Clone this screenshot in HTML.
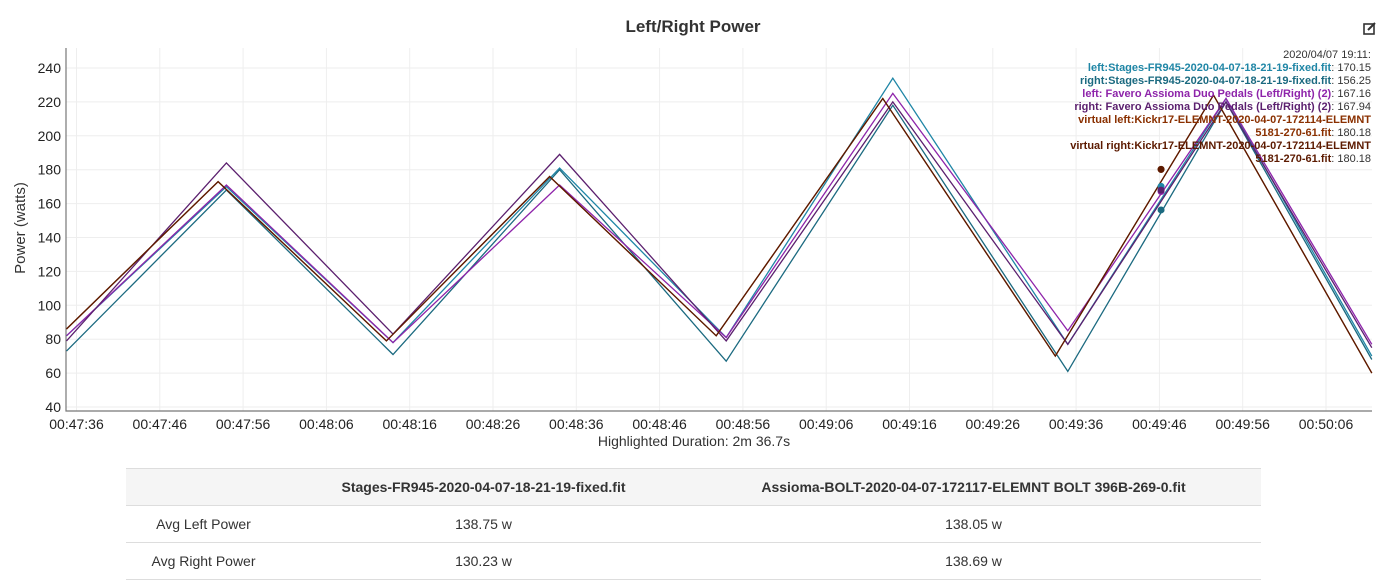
<!DOCTYPE html>
<html><head><meta charset="utf-8"><style>
body{margin:0;width:1386px;height:583px;background:#fff;font-family:"Liberation Sans",Arial,sans-serif;overflow:hidden;position:relative}
#title{position:absolute;left:0;width:1386px;top:17px;text-align:center;font-weight:bold;font-size:17px;color:#333}
table{position:absolute;left:126px;top:468px;width:1135px;border-collapse:collapse;font-size:14px;color:#333}
td,th{height:36px;text-align:center;border-bottom:1px solid #ddd;padding:0}
th{background:#f5f5f5;font-weight:bold;border-top:1px solid #ddd}
</style></head><body>
<div id="title">Left/Right Power</div>
<svg style="position:absolute;left:1363px;top:21px" width="14" height="14" viewBox="0 0 14 14"><rect x="1" y="3" width="10" height="10" fill="none" stroke="#333" stroke-width="1.6"/><path d="M5 9 L12 2" stroke="#333" stroke-width="2"/></svg>
<svg id="chart" width="1386" height="460" style="position:absolute;left:0;top:0"></svg>
<table>
<tr><th style="width:155px"></th><th style="width:405px">Stages-FR945-2020-04-07-18-21-19-fixed.fit</th><th>Assioma-BOLT-2020-04-07-172117-ELEMNT BOLT 396B-269-0.fit</th></tr>
<tr><td>Avg Left Power</td><td>138.75 w</td><td>138.05 w</td></tr>
<tr><td>Avg Right Power</td><td>130.23 w</td><td>138.69 w</td></tr>
</table>
<script>
const tickLabels=["00:47:36","00:47:46","00:47:56","00:48:06","00:48:16","00:48:26","00:48:36","00:48:46","00:48:56","00:49:06","00:49:16","00:49:26","00:49:36","00:49:46","00:49:56","00:50:06"];
const yTicks=[40,60,80,100,120,140,160,180,200,220,240];
const seriesNames=["left:Stages-FR945-2020-04-07-18-21-19-fixed.fit","right:Stages-FR945-2020-04-07-18-21-19-fixed.fit","left: Favero Assioma Duo Pedals (Left/Right) (2)","right: Favero Assioma Duo Pedals (Left/Right) (2)","virtual left:Kickr17-ELEMNT-2020-04-07-172114-ELEMNT 5181-270-61.fit","virtual right:Kickr17-ELEMNT-2020-04-07-172114-ELEMNT 5181-270-61.fit"];
const seriesColors=["#1f86a6","#1b6a80","#8e24aa","#5b1f6e","#8a3000","#5c1a00"];
const hoverValues=[170.15,156.25,167.16,167.94,180.18,180.18];
const times=[-1.2,18,38,58,78,98,119,138,155.5];
const timesV=[-1.2,17,37.2,56.8,76.8,96.8,117.5,136.5,155.5];
const s1=[82,170,78,181,81,234,77,222,70];
const s2=[73,168,71,180,67,218,61,220,68];
const s3=[82,171,78,171,81,225,85,222,77];
const s4=[79,184,83,189,79,220,77,220,75];
const s5=[86,173,79,176,82,222,70,224,60];
const s6=[86,173,79,176,82,222,70,224,60];
const series=[s1,s2,s3,s4,s5,s6];
const seriesTimes=[times,times,times,times,timesV,timesV];
const hoverT=130.2;
const NS="http://www.w3.org/2000/svg",svg=document.getElementById('chart');
const X=t=>76.5+t*8.33, Y=v=>407-(v-40)*1.695;
function mk(tag,a){const e=document.createElementNS(NS,tag);for(const k in a)e.setAttribute(k,a[k]);svg.appendChild(e);return e;}
yTicks.forEach(v=>{
 const l=mk('line',{x1:66,x2:1372,y1:Y(v),y2:Y(v),stroke:'#eee'});
 
 
 const t=mk('text',{x:61,y:Y(v)+5,'text-anchor':'end','font-size':14,fill:'#222'});t.textContent=v;
 
 
});
tickLabels.forEach((s,i)=>{
 const x=X(i*10);
 const l=mk('line',{x1:x,x2:x,y1:48,y2:411,stroke:'#eee'});
 
 
 const t=mk('text',{x:x,y:429,'text-anchor':'middle','font-size':14,fill:'#222'});t.textContent=s;
 
 
});
const ax=mk('path',{d:'M66 48 V411 H1372',fill:'none',stroke:'#777','stroke-width':1.2});


const yt=mk('text',{x:0,y:0,transform:'translate(25,228) rotate(-90)','text-anchor':'middle','font-size':15,fill:'#333'});yt.textContent='Power (watts)';


const xt=mk('text',{x:694,y:446,'text-anchor':'middle','font-size':14,fill:'#333'});xt.textContent='Highlighted Duration: 2m 36.7s';


series.forEach((s,i)=>{
 const tt=seriesTimes[i];
 const d=s.map((v,j)=>(j?'L':'M')+X(tt[j]).toFixed(1)+' '+Y(v).toFixed(1)).join(' ');
 const p=mk('path',{d:d,fill:'none',stroke:seriesColors[i],'stroke-width':1.3});
 
 
});
hoverValues.forEach((v,i)=>{
 const c=mk('circle',{cx:X(hoverT),cy:Y(v),r:3.5,fill:seriesColors[i]});
 
 
});
const lines=[["2020/04/07 19:11:","","#333"]];
hoverValues.forEach((v,i)=>{
 const n=seriesNames[i];
 if(i>=4){const k=n.lastIndexOf(' ');lines.push([n.slice(0,k),"",seriesColors[i]]);lines.push([n.slice(k+1),": "+v.toFixed(2),seriesColors[i]]);}
 else lines.push([n,": "+v.toFixed(2),seriesColors[i]]);
});
lines.forEach((l,i)=>{
 const t=mk('text',{x:1371,y:58+i*13,'text-anchor':'end','font-size':11,fill:'#333'});
 
 
 const a=document.createElementNS(NS,'tspan');a.setAttribute('fill',l[2]);if(i)a.setAttribute('font-weight','bold');a.textContent=l[0];t.appendChild(a);
 const b=document.createElementNS(NS,'tspan');b.setAttribute('fill','#333');b.textContent=l[1];t.appendChild(b);
});
</script>
</body></html>
